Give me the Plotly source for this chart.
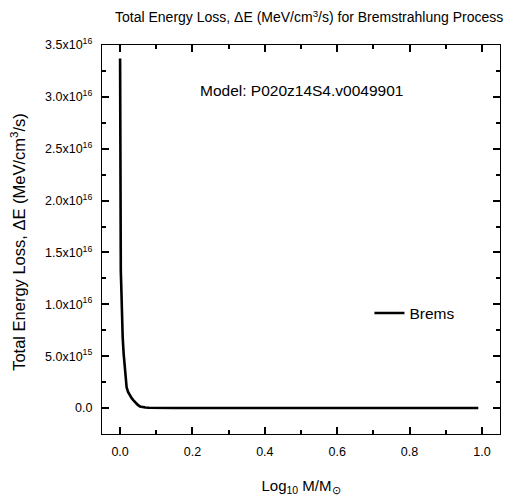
import plotly.graph_objects as go

# Bremsstrahlung energy loss profile versus log10 of enclosed mass
log_mass = [0.0, 0.0003, 0.0006, 0.0012, 0.002, 0.0033, 0.005, 0.0072, 0.0097,
            0.012, 0.015, 0.018, 0.022, 0.027, 0.032, 0.037, 0.043, 0.049,
            0.055, 0.062, 0.070, 0.080, 0.095, 0.115, 0.15, 0.25, 0.40, 0.60,
            0.80, 0.99]
energy_loss = [3.37e16, 2.60e16, 1.95e16, 1.55e16, 1.32e16, 1.17e16, 0.85e16,
               0.68e16, 0.53e16, 0.42e16, 0.29e16, 0.20e16, 0.155e16, 0.12e16,
               0.095e16, 0.075e16, 0.05e16, 0.03e16, 0.016e16, 0.009e16,
               0.005e16, 0.0025e16, 0.0012e16, 0.0006e16, 0.0003e16, 0.0001e16,
               0.00005e16, 0.00003e16, 0.00002e16, 0.00001e16]

y_tick_vals = [0, 5e15, 1e16, 1.5e16, 2e16, 2.5e16, 3e16, 3.5e16]
y_tick_text = ["0.0", "5.0x10<sup>15</sup>", "1.0x10<sup>16</sup>",
               "1.5x10<sup>16</sup>", "2.0x10<sup>16</sup>", "2.5x10<sup>16</sup>",
               "3.0x10<sup>16</sup>", "3.5x10<sup>16</sup>"]
x_tick_vals = [0.0, 0.2, 0.4, 0.6, 0.8, 1.0]
x_tick_text = ["0.0", "0.2", "0.4", "0.6", "0.8", "1.0"]

X_RANGE = [-0.05, 1.05]
Y_RANGE = [-2.5e15, 3.5e16]
X_MAJOR, X_MINOR = 0.2, 0.1
Y_MAJOR, Y_MINOR = 5e15, 2.5e15

FONT = "Liberation Sans, Arial, sans-serif"
TICK_W = 1.5

fig = go.Figure()
fig.add_trace(go.Scatter(
    x=log_mass, y=energy_loss, mode="lines", name="Brems",
    line=dict(color="black", width=2.6),
))

layout_axes = {}

# labelled frame axes: bottom and left, inside ticks mirrored to top/right
layout_axes["xaxis"] = dict(
    range=X_RANGE, tickmode="array", tickvals=x_tick_vals, ticktext=x_tick_text,
    ticks="inside", ticklen=7, tickwidth=TICK_W, tickcolor="black",
    showline=True, linecolor="black", linewidth=1.3, mirror="ticks",
    showgrid=False, zeroline=False, ticklabelstandoff=6,
    tickfont=dict(family=FONT, size=12.5, color="black"),
    title=dict(text="Log<sub>10</sub> M/M<sub>\u2299</sub>",
               font=dict(family=FONT, size=15, color="black"), standoff=22),
)
layout_axes["yaxis"] = dict(
    range=Y_RANGE, tickmode="array", tickvals=y_tick_vals, ticktext=y_tick_text,
    ticks="inside", ticklen=7, tickwidth=TICK_W, tickcolor="black",
    showline=True, linecolor="black", linewidth=1.3, mirror="ticks",
    showgrid=False, zeroline=False, ticklabelstandoff=6,
    tickfont=dict(family=FONT, size=12.5, color="black"),
)

# tick-only overlay axes: major and minor inside ticks on all four edges
tick_specs = [
    # (name, direction, side, step, offset, length)
    ("xaxis2", "x", "top", X_MAJOR, 0.0, 7),
    ("xaxis3", "x", "top", X_MAJOR, X_MINOR, 4),
    ("yaxis2", "y", "right", Y_MAJOR, 0.0, 7),
    ("yaxis3", "y", "right", Y_MAJOR, Y_MINOR, 4),
    ("xaxis4", "x", "bottom", X_MAJOR, X_MINOR, 4),
    ("yaxis4", "y", "left", Y_MAJOR, Y_MINOR, 4),
]
for name, direction, side, step, offset, length in tick_specs:
    ax_id = direction + name[5:]
    layout_axes[name] = dict(
        range=X_RANGE if direction == "x" else Y_RANGE,
        overlaying=direction, side=side,
        anchor="y" if direction == "x" else "x",
        tickmode="linear", tick0=offset, dtick=step,
        ticks="inside", ticklen=length, tickwidth=TICK_W, tickcolor="black",
        mirror="ticks", showline=False, showticklabels=False,
        showgrid=False, zeroline=False,
    )
    # transparent companion trace so each overlay axis is rendered
    fig.add_trace(go.Scatter(
        x=X_RANGE, y=Y_RANGE, mode="lines", opacity=0,
        line=dict(width=0, color="white"),
        xaxis=ax_id if direction == "x" else "x",
        yaxis=ax_id if direction == "y" else "y",
        showlegend=False, hoverinfo="skip",
    ))

fig.update_layout(
    template="none",
    width=524, height=502,
    margin=dict(l=102, r=24, t=45, b=68),
    paper_bgcolor="white", plot_bgcolor="rgba(0,0,0,0)",
    font=dict(family=FONT, color="black"),
    title=dict(
        text="Total Energy Loss, \u0394E (MeV/cm<sup>3</sup>/s) for Bremstrahlung Process",
        x=0.59, xanchor="center", y=0.965, yanchor="middle",
        font=dict(family=FONT, size=14, color="black"),
    ),
    legend=dict(x=0.672, y=0.31, xanchor="left", yanchor="middle",
                bgcolor="rgba(0,0,0,0)", borderwidth=0,
                font=dict(family=FONT, size=15.5, color="black")),
    showlegend=True,
    annotations=[
        dict(text="Model: P020z14S4.v0049901", xref="paper", yref="paper",
             x=0.50, y=0.882, xanchor="center", yanchor="middle", showarrow=False,
             font=dict(family=FONT, size=15.5, color="black")),
        dict(text="Total Energy Loss, \u0394E (MeV/cm<sup>3</sup>/s)",
             xref="paper", yref="paper", x=-0.211, y=0.494, textangle=-90,
             xanchor="center", yanchor="middle", showarrow=False,
             font=dict(family=FONT, size=16.5, color="black")),
    ],
    **layout_axes,
)

fig.write_html("out.html")
